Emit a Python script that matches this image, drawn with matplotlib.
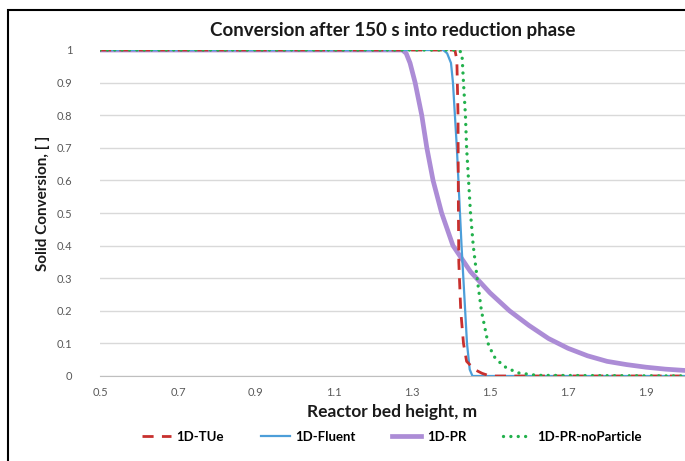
import matplotlib.pyplot as plt
from matplotlib.patches import Rectangle

plt.rcParams['font.family'] = ['Lato', 'DejaVu Sans']

# series
tue_x = [0.5, 1.41, 1.415, 1.418, 1.419, 1.42, 1.425, 1.432, 1.44, 1.46, 1.48, 1.5, 2.0]
tue_y = [1.0, 1.0, 0.97, 0.8, 0.5, 0.35, 0.2, 0.1, 0.045, 0.02, 0.008, 0.0, 0.0]

fluent_x = [0.5, 1.38, 1.39, 1.40, 1.405, 1.415, 1.427, 1.441, 1.448, 1.455, 2.0]
fluent_y = [1.0, 1.0, 0.99, 0.96, 0.9, 0.7, 0.4, 0.1, 0.02, 0.0, 0.0]

pr_x = [0.5, 1.275, 1.285, 1.295, 1.308, 1.325, 1.338, 1.354, 1.376, 1.405, 1.45, 1.5, 1.55,
        1.6, 1.65, 1.7, 1.75, 1.8, 1.85, 1.9, 1.95, 2.0]
pr_y = [1.0, 1.0, 0.99, 0.96, 0.9, 0.8, 0.7, 0.6, 0.5, 0.4, 0.32, 0.255, 0.2,
        0.155, 0.115, 0.085, 0.062, 0.045, 0.035, 0.027, 0.021, 0.017]

nop_x = [0.5, 1.42, 1.428, 1.432, 1.437, 1.44, 1.445, 1.45, 1.457, 1.467, 1.478,
         1.495, 1.51, 1.535, 1.57, 1.62, 2.0]
nop_y = [1.0, 1.0, 0.99, 0.9, 0.8, 0.7, 0.6, 0.5, 0.4, 0.3, 0.2,
         0.1, 0.06, 0.03, 0.01, 0.002, 0.0]

x_ticks = [0.5, 0.7, 0.9, 1.1, 1.3, 1.5, 1.7, 1.9]
y_ticks = [0, 0.1, 0.2, 0.3, 0.4, 0.5, 0.6, 0.7, 0.8, 0.9, 1]

fig = plt.figure(figsize=(6.85, 4.61), dpi=100)
ax = fig.add_axes([100 / 685, 1 - 376 / 461, 585 / 685, 326 / 461])

ax.plot(pr_x, pr_y, color='#AC8CD6', lw=3.4, label='1D-PR', zorder=2)
ax.plot(fluent_x, fluent_y, color='#4C9ED9', lw=1.6, label='1D-Fluent', zorder=3)
ax.plot(tue_x, tue_y, color='#C8302E', lw=2.0, ls=(0, (4, 3)), label='1D-TUe', zorder=4)
ax.plot(nop_x, nop_y, color='#22B14C', lw=2.4, ls=(0, (0.01, 2.2)),
        dash_capstyle='round', label='1D-PR-noParticle', zorder=5)

ax.set_xlim(0.5, 2.0)
ax.set_ylim(0, 1)
ax.set_xticks(x_ticks)
ax.set_xticklabels([f'{v:g}' for v in x_ticks])
ax.set_yticks(y_ticks)
ax.set_yticklabels([f'{v:g}' for v in y_ticks])
ax.tick_params(axis='both', length=0, labelsize=8, labelcolor='#595959')
ax.tick_params(axis='y', pad=20)
ax.tick_params(axis='x', pad=8)
ax.grid(axis='y', color='#D9D9D9', lw=1)
for s in ['top', 'right', 'left']:
    ax.spines[s].set_visible(False)
ax.spines['bottom'].set_color('#BFBFBF')

ax.set_title('Conversion after 150 s into reduction phase', fontsize=13.5,
             fontweight='bold', pad=10, color='#1A1A1A')
ax.set_xlabel('Reactor bed height, m', fontsize=12.5, fontweight='bold', color='#1A1A1A')
ax.set_ylabel('Solid Conversion, [ ]', fontsize=11, fontweight='bold', color='#1A1A1A')
ax.xaxis.set_label_coords(0.5, -0.085)
ax.yaxis.set_label_coords(-0.085, 0.53)

handles, labels = ax.get_legend_handles_labels()
order = [2, 1, 0, 3]
fig.legend([handles[i] for i in order], [labels[i] for i in order],
           loc='center', bbox_to_anchor=(392 / 685, 1 - 437 / 461), ncol=4,
           frameon=False, handlelength=2.2, columnspacing=2.8,
           handletextpad=0.4, prop={'weight': 'bold', 'size': 9.5})

fig.patches.append(Rectangle((8 / 685, -0.1), 1.2, 1 - 10 / 461 + 0.1,
                             transform=fig.transFigure, fill=False,
                             edgecolor='black', lw=1.5))

fig.savefig('out.png', dpi=100)
